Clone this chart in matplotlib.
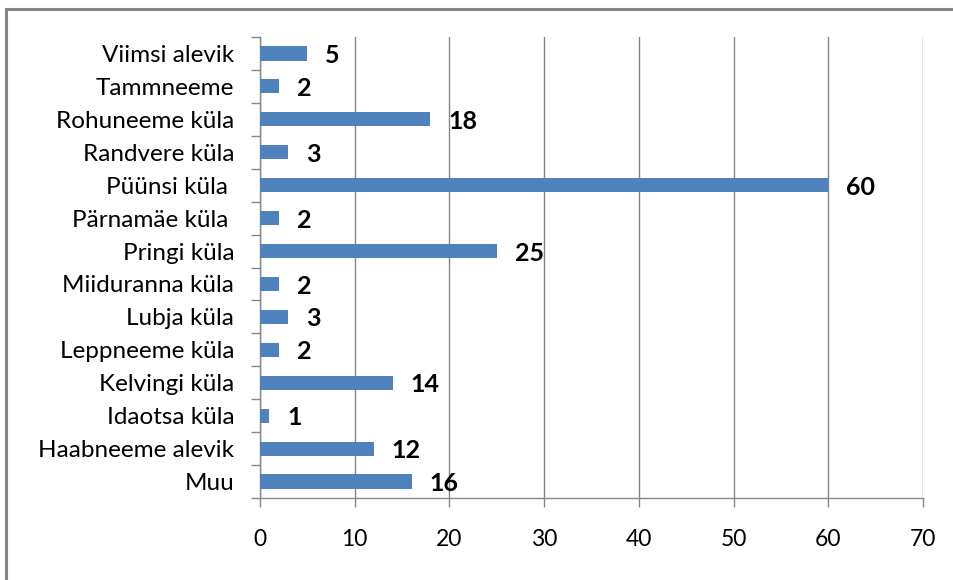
import numpy as np
import matplotlib
matplotlib.use("Agg")
import matplotlib.pyplot as plt
from matplotlib.lines import Line2D

# andmed (alt üles)
kylad = ["Muu", "Haabneeme alevik", "Idaotsa küla", "Kelvingi küla", "Leppneeme küla",
         "Lubja küla", "Miiduranna küla", "Pringi küla", "Pärnamäe küla ", "Püünsi küla ",
         "Randvere küla", "Rohuneeme küla", "Tammneeme", "Viimsi alevik"]
arvud = [16, 12, 1, 14, 2, 3, 2, 25, 2, 60, 3, 18, 2, 5]
x_ticks = [0, 10, 20, 30, 40, 50, 60, 70]

plt.rcParams['font.family'] = ['Lato', 'DejaVu Sans']
hall = "#868686"

fig = plt.figure(figsize=(9.54, 5.80), dpi=100)
ax = fig.add_axes([260/954, 1-498/580, (923-260)/954, (498-37)/580])

y = np.arange(len(kylad))
ax.barh(y, arvud, height=0.43, color="#4F81BD", zorder=3)

for yi, v in zip(y, arvud):
    ax.annotate(str(v), (v, yi), xytext=(13, -1.5), textcoords="offset points",
                ha="left", va="center", fontsize=18, fontweight="bold", color="black")

ax.set_xlim(0, 70)
ax.set_ylim(-0.5, len(kylad) - 0.5)
ax.set_xticks(x_ticks)
ax.set_xticklabels([str(t) for t in x_ticks], fontsize=16.5)
ax.set_yticks(y)
ax.set_yticklabels(kylad, fontsize=17.5)
ax.set_yticks(np.arange(-0.5, len(kylad), 1), minor=True)

ax.tick_params(axis="y", which="major", length=0, pad=18.5)
ax.tick_params(axis="y", which="minor", length=6.5, width=1, color=hall)
ax.tick_params(axis="x", length=6.5, width=1, color=hall, pad=15.5)

ax.grid(axis="x", color=hall, linewidth=1, zorder=0)
for s in ["top", "right"]:
    ax.spines[s].set_visible(False)
for s in ["left", "bottom"]:
    ax.spines[s].set_color(hall)
    ax.spines[s].set_linewidth(1)

# välimine raam
fig.add_artist(Line2D([6/954, 1], [1-9/580, 1-9/580], color=hall, linewidth=2.2,
                      transform=fig.transFigure))
fig.add_artist(Line2D([6/954, 6/954], [0, 1-9/580], color=hall, linewidth=2.2,
                      transform=fig.transFigure))

fig.savefig("out.png", dpi=100)
